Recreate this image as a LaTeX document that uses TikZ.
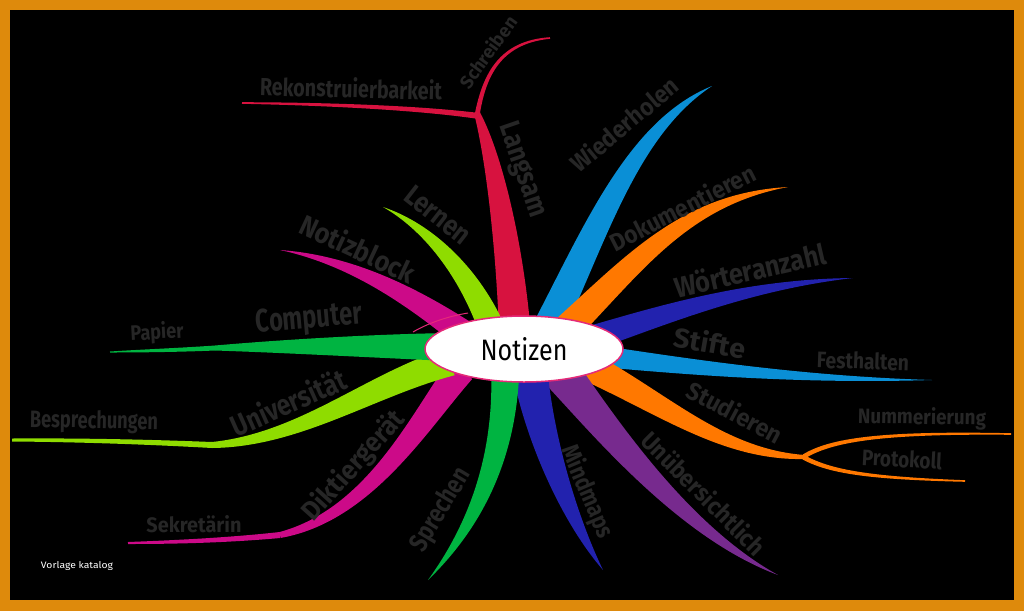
\documentclass[tikz,border=0pt]{standalone}
\usepackage{fontspec}
\setmainfont{Fira Sans}
\usepackage{graphicx}
\usetikzlibrary{calc,shapes.geometric}
\definecolor{bred}{HTML}{D7123F}
\definecolor{bblue}{HTML}{0A8FD6}
\definecolor{borange}{HTML}{FF7800}
\definecolor{bnavy}{HTML}{2222AE}
\definecolor{bpurple}{HTML}{772A8E}
\definecolor{bgreen}{HTML}{00B441}
\definecolor{blime}{HTML}{8FDC00}
\definecolor{bmagenta}{HTML}{CC0A88}
\definecolor{frameorange}{HTML}{DE8A0C}
\definecolor{labgray}{HTML}{262626}
\definecolor{ring}{HTML}{E52A78}
% tapered branch: colour, P0, P1, P2, P3, half widths at P0..P3
\newcommand\branch[9]{%
 \fill[#1] ($(#2)!#6pt!90:(#5)$) .. controls ($(#3)!#7pt!90:(#5)$) and ($(#4)!#8pt!90:(#5)$) .. ($(#5)!#9pt!-90:(#4)$)
 -- ($(#5)!#9pt!90:(#4)$) .. controls ($(#4)!#8pt!-90:(#5)$) and ($(#3)!#7pt!-90:(#5)$) .. ($(#2)!#6pt!-90:(#5)$) -- cycle;}
\newcommand\lbl[3]{\resizebox{#1pt}{#2pt}{#3}}
\tikzset{
  lab/.style={text=labgray, inner sep=0pt, font=\bfseries},
  centre/.style={ellipse, draw=ring, fill=white, line width=1.5pt, minimum width=198pt, minimum height=66pt, inner sep=0pt, text=black},
}
\begin{document}
\begin{tikzpicture}[x=1pt,y=-1pt]
\useasboundingbox (0,0) rectangle (1024,611);
\fill[frameorange] (0,0) rectangle (1024,611);
\fill[black] (10,10) rectangle (1014,600);

% branches
\branch{bred}{515,335}{510,250}{495,160}{477,113}{16}{14}{9}{3}
\branch{bred}{479,116}{420,108}{330,104}{242,103}{3}{2.3}{1.6}{0.8}
\branch{bred}{477,116}{484,75}{500,42}{550,38}{3}{2.3}{1.6}{0.8}
\branch{bblue}{545,335}{595,235}{632,128}{712,86}{16}{14}{9}{0}
\branch{borange}{555,340}{630,270}{680,200}{788,187}{15}{13}{7}{0}
\branch{bnavy}{570,345}{650,320}{740,285}{853,278}{13}{11}{6}{0}
\branch{bblue}{590,355}{690,367}{800,380}{932,380}{11}{8}{4}{0}
\branch{borange}{575,360}{660,400}{720,455}{805,457}{15}{12}{6}{2}
\branch{borange}{803,457}{830,440}{880,432}{1011,434}{2.5}{2}{1.5}{0.8}
\branch{borange}{803,457}{830,472}{870,478}{965,481}{2.5}{2}{1.5}{0.8}
\branch{bpurple}{555,365}{600,420}{680,530}{778,575}{20}{15}{8}{0}
\branch{bnavy}{530,370}{540,440}{570,520}{603,570}{18}{14}{8}{0}
\branch{bgreen}{505,370}{505,450}{480,520}{428,580}{15}{12}{7}{0}
\branch{bmagenta}{462,368}{420,420}{370,515}{280,535}{15}{12}{7}{3}
\branch{bmagenta}{280,535}{230,540}{180,542}{128,543}{3}{2.5}{2}{1}
\branch{blime}{450,362}{370,385}{300,440}{212,445}{14}{12}{7}{3}
\branch{blime}{212,445}{150,442}{80,440}{12,440}{3}{2.5}{2}{1.5}
\branch{bgreen}{450,347}{380,346}{290,346}{215,348}{14}{12}{7}{2.5}
\branch{bgreen}{215,348}{180,350}{140,351}{110,352}{2.5}{2}{1.5}{0.5}
\branch{bmagenta}{465,335}{410,295}{350,260}{280,250}{14}{10}{5}{0}
\branch{blime}{492,330}{470,275}{430,228}{383,207}{14}{11}{5}{0}

% stray stroke near the centre
\coordinate (s1) at (413,332);
\coordinate (s2) at (468,313);
\draw[ring, line width=1pt] (s1) .. controls (430,322) and (450,316) .. (s2);

% centre
\node[centre] (notizen) at (524,349) {\lbl{87}{23}{Notizen}};

% labels
\node[lab, rotate=-1.5] (rek) at (351,88) {\lbl{182}{20}{Rekonstruierbarkeit}};
\node[lab, rotate=54] (schreiben) at (488,52) {\lbl{84}{15}{Schreiben}};
\node[lab, rotate=-71] (langsam) at (522,170) {\lbl{98}{20}{Langsam}};
\node[lab, rotate=-38] (lernen) at (438,215) {\lbl{76}{20}{Lernen}};
\node[lab, rotate=-25] (notizblock) at (358,248) {\lbl{124}{23}{Notizblock}};
\node[lab, rotate=5] (computer) at (309,320) {\lbl{106}{23}{Computer}};
\node[lab, rotate=3] (papier) at (157,333) {\lbl{53}{17}{Papier}};
\node[lab, rotate=24] (uni) at (288,402) {\lbl{123}{24}{Universität}};
\node[lab, rotate=-1] (besp) at (94,422) {\lbl{128}{18}{Besprechungen}};
\node[lab, rotate=48] (diktier) at (354,466) {\lbl{138}{22}{Diktiergerät}};
\node[lab] (sekr) at (194,524) {\lbl{95}{17}{Sekretärin}};
\node[lab, rotate=59] (sprechen) at (441,510) {\lbl{92}{20}{Sprechen}};
\node[lab, rotate=-67] (mindmaps) at (587,492) {\lbl{98}{20}{Mindmaps}};
\node[lab, rotate=-45] (unueb) at (704,493) {\lbl{163}{20}{Unübersichtlich}};
\node[lab, rotate=-28] (studieren) at (735,412) {\lbl{104}{20}{Studieren}};
\node[lab, rotate=-1] (numm) at (922,418) {\lbl{128}{17}{Nummerierung}};
\node[lab, rotate=-3] (proto) at (902,459) {\lbl{80}{17}{Protokoll}};
\node[lab, rotate=-2] (fest) at (863,361) {\lbl{92}{17}{Festhalten}};
\node[lab, rotate=-10] (stifte) at (710,342) {\lbl{72}{22}{Stifte}};
\node[lab, rotate=13] (woerter) at (750,270) {\lbl{155}{23}{Wörteranzahl}};
\node[lab, rotate=27] (doku) at (682,207) {\lbl{160}{20}{Dokumentieren}};
\node[lab, rotate=40] (wieder) at (624,124) {\lbl{132}{20}{Wiederholen}};

\node[text=white, inner sep=0pt] (vorlage) at (77,566) {\resizebox{72pt}{7pt}{Vorlage katalog}};
\end{tikzpicture}
\end{document}
